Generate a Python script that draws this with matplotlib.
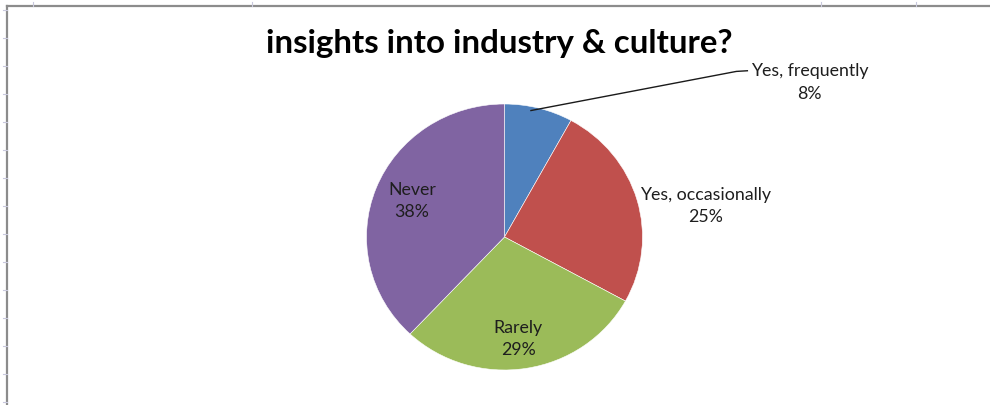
import matplotlib
matplotlib.use("Agg")
import matplotlib.pyplot as plt
import numpy as np
from matplotlib.lines import Line2D

title = "insights into industry & culture?"
categories = ["Yes, frequently", "Yes, occasionally", "Rarely", "Never"]
values = [8, 25, 29, 38]
colors = ["#4F81BD", "#C0504D", "#9BBB59", "#8064A2"]

W, H = 990, 406
fig = plt.figure(figsize=(W / 100, H / 100), dpi=100)
fig.patch.set_facecolor("white")

# frame lines (sheet border)
fig.add_artist(Line2D([7 / W, 1], [1 - 7 / H, 1 - 7 / H], color="#8c8c8c", lw=1.6))
fig.add_artist(Line2D([7 / W, 7 / W], [0, 1 - 7 / H], color="#8c8c8c", lw=1.6))
for yy in range(11, 406, 28):
    fig.add_artist(Line2D([3 / W, 7 / W], [1 - yy / H, 1 - yy / H], color="#c8c8dc", lw=0.8))
for xx in [33, 252, 821, 916]:
    fig.add_artist(Line2D([xx / W, xx / W], [1 - 3 / H, 1 - 7 / H], color="#c8c8dc", lw=0.8))

cx, cy = 504.5, 238
rx, ry = 138, 133
hw, hh = 1.1 * rx, 1.1 * ry
ax = fig.add_axes([(cx - hw) / W, (H - cy - hh) / H, 2 * hw / W, 2 * hh / H])

wedges, _ = ax.pie(values, colors=colors, startangle=90, counterclock=False,
                   radius=1.0, center=(0, 0), frame=True,
                   wedgeprops=dict(linewidth=0.4, edgecolor="#ffffff"))
ax.set_aspect("auto")
ax.set_xlim(-1.1, 1.1)
ax.set_ylim(-1.1, 1.1)
ax.axis("off")

font = "Lato"
txtcol = "#1e1e1e"
label_pos = [(2.21, 1.17), (1.46, 0.24), (0.10, -0.76), (-0.67, 0.28)]
for cat, v, (lx, ly) in zip(categories, values, label_pos):
    ax.text(lx, ly, f"{cat}\n{v}%", ha="center", va="center", fontsize=12.8,
            family=font, color=txtcol, linespacing=1.5, clip_on=False)

# leader line for the small slice
ang = np.deg2rad(90 - values[0] * 3.6 / 2 + 3)
sx, sy = 0.97 * np.cos(ang), 0.97 * np.sin(ang)
ax.add_line(Line2D([sx, 1.68, 1.76], [sy, 1.245, 1.25], color="#1a1a1a", lw=1.0, clip_on=False))

fig.text(0.5045, 1 - 44 / H, title, ha="center", va="center", fontsize=23.8,
         fontweight="bold", family=font, color="#000000")

fig.savefig("out.png", dpi=100)
